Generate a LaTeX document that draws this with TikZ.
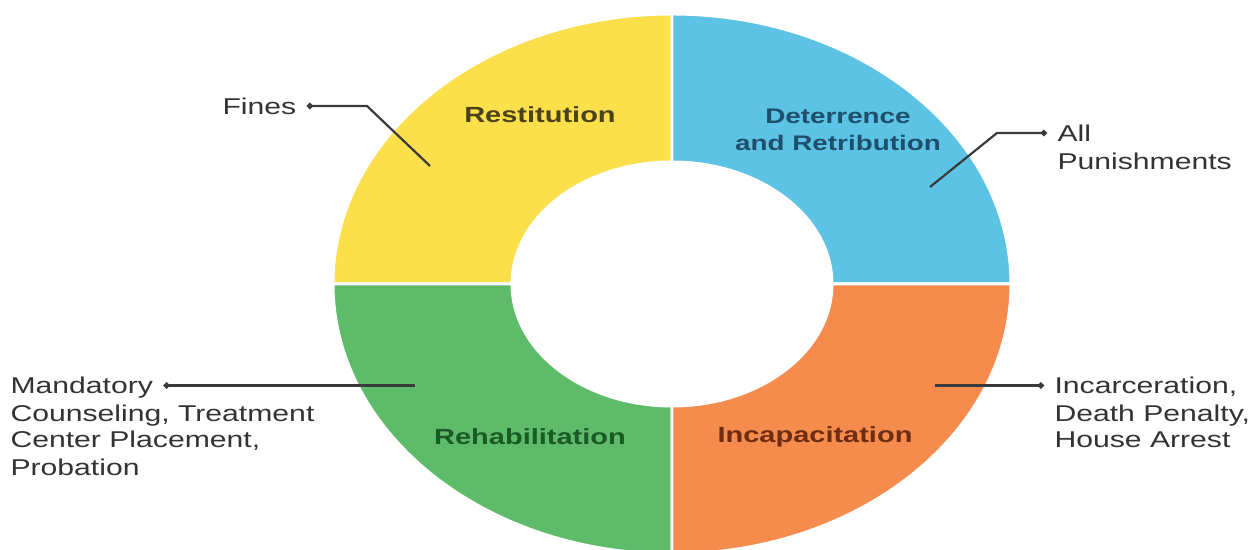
\documentclass[tikz,border=0pt]{standalone}
\usepackage{fontspec}
\setmainfont{Liberation Sans}[FakeStretch=1.32]
\usepackage{tikz}
\usetikzlibrary{arrows.meta,positioning,calc}

\definecolor{restfill}{HTML}{FBDF4B}
\definecolor{deterfill}{HTML}{5CC3E4}
\definecolor{rehabfill}{HTML}{5EBB69}
\definecolor{incapfill}{HTML}{F68B4E}
\definecolor{resttext}{HTML}{4A4319}
\definecolor{detertext}{HTML}{1E4F6B}
\definecolor{rehabtext}{HTML}{1B5A27}
\definecolor{incaptext}{HTML}{6E2C10}
\definecolor{sidetext}{HTML}{333333}
\definecolor{calloutgray}{HTML}{3A3A3A}

\begin{document}
\begin{tikzpicture}[
  x=0.02cm, y=0.02cm,
  seg/.style={draw=white, line width=1.7pt},
  inlabel/.style={font=\fontsize{12.5}{15.3}\selectfont\bfseries,
                  align=center, inner sep=0pt},
  side/.style={font=\fontsize{13}{15.3}\selectfont\color{sidetext},
               inner sep=0pt, outer xsep=6pt, anchor=west,
               text height=9.3pt, text depth=0pt},
  callout/.style={{Circle[length=3.5pt]}-, draw=calloutgray, line width=1.25pt}
]
  \path[fill=white, use as bounding box] (0,0) rectangle (1255,550);

  % ring centre and the four quarters
  \coordinate (c) at (672,266);
  \foreach \a/\col in {90/restfill, 0/deterfill, 180/rehabfill, 270/incapfill}{
    \path[seg, fill=\col] (c) ++(\a:339 and 270)
      arc[start angle=\a, end angle=\a+90, x radius=339, y radius=270]
      -- ($(c)+({\a+90}:160 and 122)$)
      arc[start angle=\a+90, end angle=\a, x radius=160, y radius=122]
      -- cycle;
  }

  \node[inlabel, text=resttext]  (rest)  at (540,435) {Restitution};
  \node[inlabel, text=detertext, font=\fontsize{12}{15.3}\selectfont\bfseries]
    (deter) at (838,420) {Deterrence\\and Retribution};
  \node[inlabel, text=rehabtext] (rehab) at (530,113) {Rehabilitation};
  \node[inlabel, text=incaptext] (incap) at (815,113) {Incapacitation};

  % labels round the ring
  \node[side] (fines) at (212,444) {Fines};

  \node[side] (all)    at (1047,417) {All};
  \node[side] (punish) at (1047,389) {Punishments};

  \node[side] (mand1) at (0,164.5) {Mandatory};
  \node[side] (mand2) at (0,137)   {Counseling, Treatment};
  \node[side] (mand3) at (0,111)   {Center Placement,};
  \node[side] (mand4) at (0,83)    {Probation};

  \node[side] (incar1) at (1044,164.5) {Incarceration,};
  \node[side] (incar2) at (1044,137)   {Death Penalty,};
  \node[side] (incar3) at (1044,111)   {House Arrest};

  \coordinate (finesBend) at (367,444);
  \coordinate (finesTip)  at (430,384);
  \coordinate (allBend)   at (997,417);
  \coordinate (allTip)    at (930,363);
  \coordinate (mandTip)   at (415,164.5);
  \coordinate (incarTip)  at (935,164.5);

  \draw[callout] (fines.east) -- (finesBend) -- (finesTip);
  \draw[callout] (all.west) -- (allBend) -- (allTip);
  \draw[callout] (mand1.east) -- (mandTip);
  \draw[callout] (incar1.west) -- (incarTip);

\end{tikzpicture}
\end{document}
